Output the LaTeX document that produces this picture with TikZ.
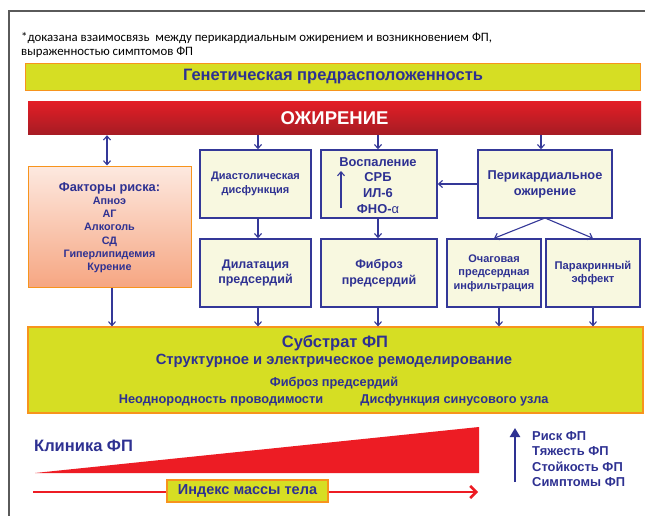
\documentclass[tikz,border=0pt]{standalone}
\usepackage{fontspec}
\setmainfont{Liberation Sans}
\newfontfamily\notefont{Carlito}
\usetikzlibrary{arrows.meta}
\definecolor{navy}{RGB}{46,49,146}
\definecolor{boxblue}{RGB}{52,56,152}
\definecolor{ygreen}{RGB}{214,222,35}
\definecolor{orng}{RGB}{247,148,29}
\definecolor{cream}{RGB}{248,248,224}
\definecolor{redA}{RGB}{226,30,38}
\definecolor{redB}{RGB}{165,28,36}
\definecolor{peachA}{RGB}{253,233,224}
\definecolor{peachB}{RGB}{246,166,130}
\definecolor{myred}{RGB}{237,28,36}
\definecolor{framegray}{RGB}{90,90,90}
\tikzset{
  ybox/.style={draw=orng, line width=1.2pt, fill=ygreen, inner sep=0pt, text=navy, font=\bfseries},
  cbox/.style={draw=boxblue, line width=1.4pt, fill=cream, inner sep=0pt, text=navy, align=center, font=\bfseries},
  arr/.style={draw=boxblue, line width=1.1pt, -{Straight Barb[length=4pt,width=7pt]}},
  darr/.style={draw=boxblue, line width=1.1pt, {Straight Barb[length=4pt,width=7pt]}-{Straight Barb[length=4pt,width=7pt]}},
  navytext/.style={text=navy, inner sep=0pt},
}
\begin{document}
\begin{tikzpicture}[x=1pt,y=-1pt]
\useasboundingbox (0,0) rectangle (645,516);
\fill[white] (0,0) rectangle (645,516);
% frame
\draw[framegray, line width=1.2pt] (645,11) -- (9,11) -- (9,516);
% note
\node[anchor=west, align=left, inner sep=0pt, font=\notefont\fontsize{12.8}{13.5}\selectfont] (note) at (21,45)
  {*доказана взаимосвязь\ \ между перикардиальным ожирением и возникновением ФП,\\выраженностью симптомов ФП};
% genetic
\node[ybox, minimum width=615pt, minimum height=27pt, font=\bfseries\fontsize{16.5}{18}\selectfont] (gen) at (333,77) {Генетическая предрасположенность};
% obesity
\node[top color=redA, bottom color=redB, minimum width=613pt, minimum height=33pt, inner sep=0pt, text=white, font=\bfseries\fontsize{18.5}{20}\selectfont] (ob) at (334.5,118.5) {ОЖИРЕНИЕ};
% risk factors
\node[draw=orng, line width=1pt, top color=peachA, bottom color=peachB, minimum width=163pt, minimum height=121pt, inner sep=0pt] (rf) at (109.5,226.5) {};
\node[navytext, align=center, anchor=north, font=\bfseries\fontsize{10.8}{13.3}\selectfont] (rft) at (109.5,182)
  {{\fontsize{12.8}{14}\selectfont Факторы риска:}\\Апноэ\\АГ\\Алкоголь\\СД\\Гиперлипидемия\\Курение};
% row 1
\node[cbox, minimum width=111pt, minimum height=68pt, font=\bfseries\fontsize{11}{14.5}\selectfont] (dia) at (255.5,184) {Диастолическая\\дисфункция};
\node[cbox, minimum width=116pt, minimum height=68pt] (inf) at (379,184) {};
\node[navytext, align=center, font=\bfseries\fontsize{12.9}{15.8}\selectfont] (inft) at (378,185.5) {Воспаление\\СРБ\\ИЛ-6\\ФНО-\textmd{α}};
\node[cbox, minimum width=134pt, minimum height=68pt, font=\bfseries\fontsize{12.8}{16}\selectfont] (per) at (545,184) {Перикардиальное\\ожирение};
% row 2
\node[cbox, minimum width=111pt, minimum height=68pt, font=\bfseries\fontsize{12.5}{15.5}\selectfont] (dil) at (255.5,273) {Дилатация\\предсердий};
\node[cbox, minimum width=116pt, minimum height=68pt, font=\bfseries\fontsize{12.5}{15.5}\selectfont] (fib) at (379,273) {Фиброз\\предсердий};
\node[cbox, minimum width=94pt, minimum height=68pt, font=\bfseries\fontsize{11}{13.5}\selectfont] (foc) at (494,273) {Очаговая\\предсердная\\инфильтрация};
\node[cbox, minimum width=94pt, minimum height=68pt, font=\bfseries\fontsize{11.2}{13.5}\selectfont] (par) at (593,273) {Паракринный\\эффект};
% substrate
\node[ybox, minimum width=615pt, minimum height=86pt] (sub) at (335.5,370) {};
\node[navytext, font=\bfseries\fontsize{16.5}{18}\selectfont] (s1) at (335,343) {Субстрат ФП};
\node[navytext, font=\bfseries\fontsize{14.8}{16}\selectfont] (s2) at (334,361) {Структурное и электрическое ремоделирование};
\node[navytext, font=\bfseries\fontsize{12.8}{14}\selectfont] (s3) at (334,383) {Фиброз предсердий};
\node[navytext, font=\bfseries\fontsize{12.8}{14}\selectfont] (s4) at (221,400) {Неоднородность проводимости};
\node[navytext, font=\bfseries\fontsize{12.8}{14}\selectfont] (s5) at (454.5,400) {Дисфункция синусового узла};
% arrows top
\draw[darr] (ob.south -| 107,0) -- (rf.north -| 107,0);
\draw[arr] (ob.south -| 258,0) -- (dia.north -| 258,0);
\draw[arr] (ob.south -| 378,0) -- (inf.north -| 378,0);
\draw[arr] (ob.south -| 541,0) -- (per.north -| 541,0);
\draw[arr] (per.west) -- (inf.east);
\coordinate (upA) at (341,208);
\coordinate (upB) at (341,171);
\draw[arr] (upA) -- (upB);
\draw[arr] (dia.south -| 258,0) -- (dil.north -| 258,0);
\draw[arr] (inf.south -| 378,0) -- (fib.north -| 378,0);
\coordinate (pb) at (545,218);
\draw[arr] (pb) -- (foc.north);
\draw[arr] (pb) -- (par.north);
% arrows into substrate
\draw[arr] (rf.south -| 112,0) -- (sub.north -| 112,0);
\draw[arr] (dil.south -| 258,0) -- (sub.north -| 258,0);
\draw[arr] (fib.south -| 378,0) -- (sub.north -| 378,0);
\draw[arr] (foc.south -| 499,0) -- (sub.north -| 499,0);
\draw[arr] (par.south -| 593,0) -- (sub.north -| 593,0);
% clinic
\node[anchor=west, navytext, font=\bfseries\fontsize{16.5}{18}\selectfont] (clin) at (34,446) {Клиника ФП};
\fill[myred] (35,473) -- (479,427) -- (479,473) -- cycle;
\coordinate (ra) at (33,492);
\coordinate (rb) at (478,492);
\draw[myred, line width=2.5pt, -{Straight Barb[length=6pt,width=12pt]}] (ra) -- (rb);
\node[draw=orng, line width=1.2pt, fill=ygreen, text=navy, minimum width=161pt, minimum height=22pt, inner sep=0pt, font=\bfseries\fontsize{14.5}{16}\selectfont] (bmi) at (247.5,491) {Индекс массы тела};
% right side
\coordinate (ua) at (515,482);
\coordinate (ub) at (515,428);
\draw[navy, line width=2.4pt, -{Triangle[length=9pt,width=10pt]}] (ua) -- (ub);
\node[anchor=west, align=left, navytext, font=\bfseries\fontsize{12.9}{15.2}\selectfont] (risk) at (532,459) {Риск ФП\\Тяжесть ФП\\Стойкость ФП\\Симптомы ФП};
\end{tikzpicture}
\end{document}
